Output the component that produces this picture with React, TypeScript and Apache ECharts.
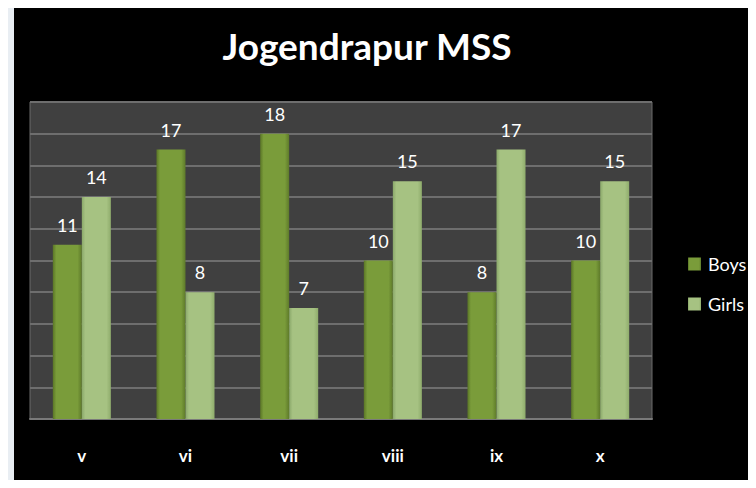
import React, { useEffect, useRef } from "react";
import * as echarts from "echarts";

const categories = ["v", "vi", "vii", "viii", "ix", "x"];
const boys = [11, 17, 18, 10, 8, 10];
const girls = [14, 8, 7, 15, 17, 15];
const titleText = "Jogendrapur MSS";

const FONT = "Lato, 'Open Sans', sans-serif";

function barGrad(edge: string, mid: string, right: string) {
  return new echarts.graphic.LinearGradient(0, 0, 1, 0, [
    { offset: 0, color: edge },
    { offset: 0.12, color: mid },
    { offset: 0.85, color: mid },
    { offset: 1, color: right },
  ]);
}

export default function App() {
  const ref = useRef<HTMLDivElement>(null);
  useEffect(() => {
    if (!ref.current) return;
    const chart = echarts.init(ref.current, undefined, { renderer: "svg" });
    const label = {
      show: true,
      position: "top" as const,
      distance: 11,
      color: "#ffffff",
      fontSize: 18,
      fontFamily: FONT,
    };
    chart.setOption({
      animation: false,
      backgroundColor: "#000000",
      title: {
        text: titleText,
        left: 348,
        top: 14,
        textAlign: "center",
        textStyle: { color: "#ffffff", fontSize: 37, fontWeight: "bold", fontFamily: FONT },
      },
      legend: {
        orient: "vertical",
        left: 669,
        top: 242,
        itemGap: 22,
        itemWidth: 13,
        itemHeight: 13,
        icon: "rect",
        textStyle: { color: "#ffffff", fontSize: 18, fontFamily: FONT, padding: [0, 0, 0, 2] },
        data: ["Boys", "Girls"],
      },
      grid: {
        left: 16,
        top: 94,
        right: 104,
        bottom: 69,
        show: true,
        backgroundColor: "#404040",
        borderColor: "#6a6a6a",
        borderWidth: 1,
      },
      xAxis: {
        type: "category",
        data: categories,
        axisLine: { show: true, lineStyle: { color: "#7a7a7a", width: 2 } },
        axisTick: { show: false },
        axisLabel: { color: "#ffffff", fontSize: 17, fontWeight: "bold", margin: 28, fontFamily: FONT },
      },
      yAxis: {
        type: "value",
        min: 0,
        max: 20,
        interval: 2,
        axisLabel: { show: false },
        axisLine: { show: false },
        axisTick: { show: false },
        splitLine: { lineStyle: { color: "#6e6e6e", width: 2 } },
      },
      series: [
        {
          name: "Boys",
          type: "bar",
          data: boys,
          barGap: "0%",
          barCategoryGap: "44%",
          itemStyle: { color: barGrad("#5a7526", "#7a9c3a", "#5e7a2a") },
          label,
        },
        {
          name: "Girls",
          type: "bar",
          data: girls,
          itemStyle: { color: barGrad("#8aa86a", "#a6c282", "#8fac6c") },
          label,
        },
      ],
    });
    return () => chart.dispose();
  }, []);
  return (
    <div style={{ width: 756, height: 488, background: "#e9eef3", position: "relative", margin: -8 }}>
      <div ref={ref} style={{ position: "absolute", left: 14, top: 8, width: 742, height: 480 }} />
    </div>
  );
}
